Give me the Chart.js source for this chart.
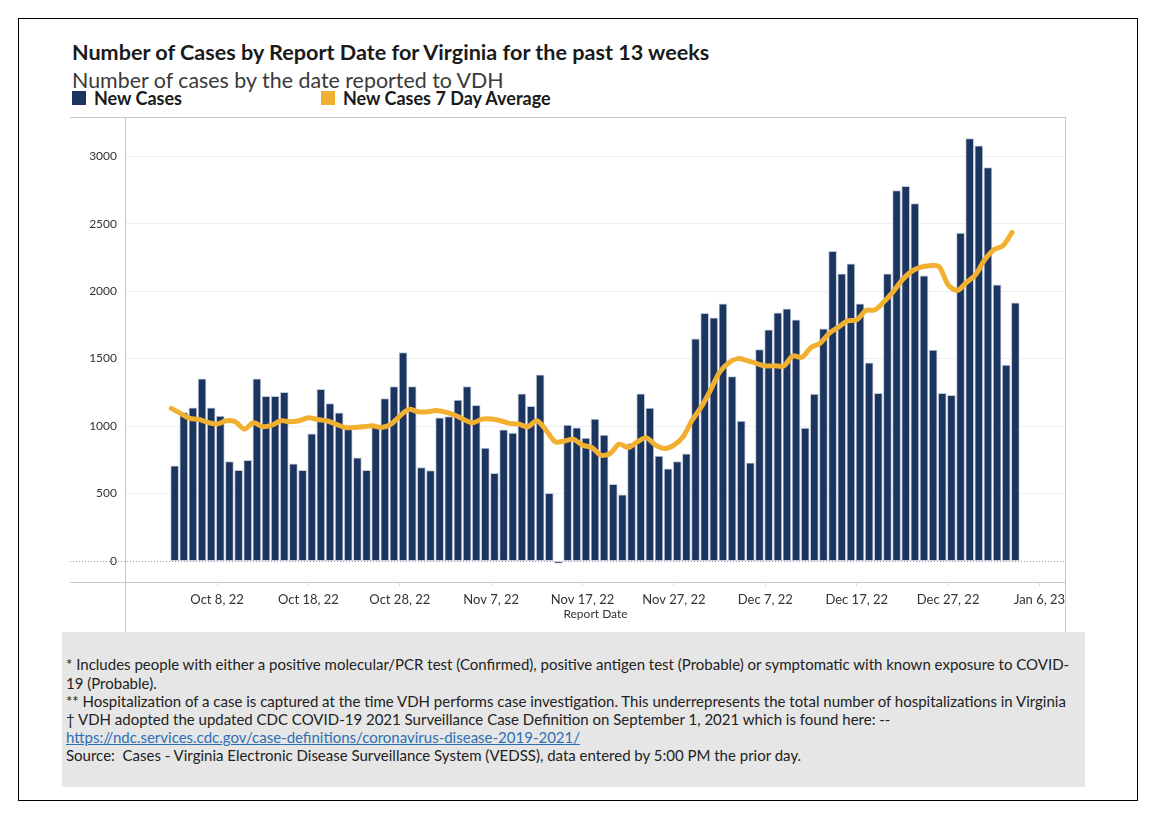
<!DOCTYPE html>
<html>
<head>
<meta charset="utf-8">
<script src="https://cdn.jsdelivr.net/npm/chart.js@4.4.1/dist/chart.umd.min.js"></script>
<style>
body{ margin:0; background:#fff; font-family:Lato, "Open Sans", sans-serif; color:#222; }
#page{ position:absolute; left:18px; top:18px; width:1118px; height:781px; border:1px solid #000; }
.title{ position:absolute; left:72px; top:39px; font-size:21.6px; font-weight:bold; color:#1a1a1a; white-space:nowrap; }
.subtitle{ position:absolute; left:72px; top:67px; font-size:21.4px; color:#3a3a3a; white-space:nowrap; }
.legend{ position:absolute; top:87px; font-size:18px; font-weight:bold; color:#1a1a1a; white-space:nowrap; }
.legend span{ display:inline-block; width:14px; height:14px; margin-right:8px; vertical-align:0px; }
#wrap{ position:absolute; left:70px; top:112px; width:1000px; height:525px; }
#notes{ position:absolute; left:62px; top:632px; width:1023px; height:155px; background:#e6e6e6; }
#notes div{ position:absolute; left:4px; font-size:15px; color:#222; white-space:nowrap; }
#notes a{ color:#2e6fb4; }
</style>
</head>
<body>
<div id="page"></div>
<div class="title">Number of Cases by Report Date for Virginia for the past 13 weeks</div>
<div class="subtitle">Number of cases by the date reported to VDH</div>
<div class="legend" style="left:72px"><span style="background:#1c355e"></span>New Cases</div>
<div class="legend" style="left:321px"><span style="background:#f2b030"></span>New Cases 7 Day Average</div>

<div id="wrap"><canvas id="chart"></canvas></div>

<div id="notes">
  <div style="top:23px">* Includes people with either a positive molecular/PCR test (Confirmed), positive antigen test (Probable) or symptomatic with known exposure to COVID-</div>
  <div style="top:42px">19 (Probable).</div>
  <div style="top:60px">** Hospitalization of a case is captured at the time VDH performs case investigation. This underrepresents the total number of hospitalizations in Virginia</div>
  <div style="top:78px">† VDH adopted the updated CDC COVID-19 2021 Surveillance Case Definition on September 1, 2021 which is found here: --</div>
  <div style="top:96px"><a href="#">https://ndc.services.cdc.gov/case-definitions/coronavirus-disease-2019-2021/</a></div>
  <div style="top:114px">Source:&nbsp; Cases - Virginia Electronic Disease Surveillance System (VEDSS), data entered by 5:00 PM the prior day.</div>
</div>

<script>

// ------------------------------
// DATA  (Oct 3, 22 -> Jan 3, 23)
// ------------------------------

const firstDay = -5          // Oct 3 counted from Oct 8
const dateTicks = ["Oct 8, 22","Oct 18, 22","Oct 28, 22","Nov 7, 22","Nov 17, 22","Nov 27, 22","Dec 7, 22","Dec 17, 22","Dec 27, 22","Jan 6, 23"]
const yTicks = [0,500,1000,1500,2000,2500,3000]

const newCases = [
    705,1100,1136,1351,1136,1074,738,673,747,1351,
    1220,1220,1250,720,673,943,1272,1166,1099,978,
    765,673,990,1203,1292,1544,1292,693,671,1062,
    1070,1193,1292,1153,837,651,973,948,1240,1146,
    1379,502,-15,1007,988,911,1052,933,569,490,
    871,1240,1134,777,683,738,795,1646,1835,1802,
    1906,1366,1037,728,1567,1713,1839,1869,1787,985,
    1238,1720,2294,2129,2203,1906,1468,1242,2129,2745,
    2777,2648,2114,1564,1242,1228,2430,3131,3076,2916,
    2047,1453,1913
]

const avg7 = [
    1131,1094,1057,1050,1027,1015,1040,1032,978,1025,
    995,1007,1040,1032,1040,1062,1049,1040,1015,990,
    990,995,1002,990,1012,1074,1124,1106,1106,1115,
    1104,1082,1049,1025,1052,1052,1040,1020,1015,995,
    1040,970,884,889,903,859,842,785,797,866,
    842,884,913,859,834,859,921,1045,1143,1267,
    1400,1470,1500,1485,1465,1445,1448,1445,1520,1510,
    1582,1614,1688,1733,1780,1787,1856,1861,1923,1997,
    2084,2146,2178,2188,2183,2047,2005,2064,2121,2232,
    2307,2336,2435
]

// bars are reported a bit after midnight
const barShift = 0.36

const barPoints = newCases.map((v,i)=>({x:firstDay+i+barShift, y:v}))
const avgPoints = avg7.map((v,i)=>({x:firstDay+i, y:v}))

// ------------------------------
// FRAME + ZERO LINE
// ------------------------------

const framePlugin = {
    id:"frame",
    beforeDatasetsDraw(chart){
        const ctx = chart.ctx
        const a = chart.chartArea
        const y0 = chart.scales.y.getPixelForValue(0)
        ctx.save()
        ctx.strokeStyle = "#9a9a9a"
        ctx.lineWidth = 1
        ctx.setLineDash([1,2])
        ctx.beginPath()
        ctx.moveTo(0, Math.round(y0)+0.5)
        ctx.lineTo(a.right, Math.round(y0)+0.5)
        ctx.stroke()
        ctx.restore()
    },
    afterDraw(chart){
        const ctx = chart.ctx
        const a = chart.chartArea
        const h = chart.height - 5
        ctx.save()
        ctx.strokeStyle = "#c8c8c8"
        ctx.lineWidth = 1
        ctx.beginPath()
        ctx.moveTo(0, a.top+0.5); ctx.lineTo(a.right, a.top+0.5)
        ctx.moveTo(0, a.bottom+0.5); ctx.lineTo(a.right, a.bottom+0.5)
        ctx.moveTo(a.left+0.5, a.top); ctx.lineTo(a.left+0.5, h)
        ctx.moveTo(a.right-0.5, a.top); ctx.lineTo(a.right-0.5, h)
        ctx.stroke()
        ctx.restore()
    }
}

// ------------------------------
// CHART
// ------------------------------

const ctx = document.getElementById("chart").getContext("2d")

new Chart(ctx,{
    type:"bar",
    data:{
        datasets:[
            {
                type:"line",
                label:"New Cases 7 Day Average",
                data:avgPoints,
                borderColor:"#f2b030",
                borderWidth:5,
                pointRadius:0,
                tension:0.3,
                borderCapStyle:"round",
                borderJoinStyle:"round",
                order:0
            },
            {
                label:"New Cases",
                data:barPoints,
                backgroundColor:"#1c355e",
                borderColor:"#c3cbdc",
                borderWidth:1,
                borderSkipped:false,
                barThickness:8,
                order:1
            }
        ]
    },
    options:{
        responsive:true,
        maintainAspectRatio:false,
        animation:false,
        layout:{ padding:{top:5,right:4,bottom:5,left:0} },
        plugins:{ legend:{display:false}, tooltip:{enabled:false} },
        scales:{
            x:{
                type:"linear",
                offset:false,
                min:-10.07,
                max:92.9,
                afterBuildTicks:(s)=>{ s.ticks = dateTicks.map((_,i)=>({value:i*10})) },
                afterFit:(s)=>{ s.height = 50; s.paddingLeft = 0; s.paddingRight = 0 },
                border:{display:false},
                grid:{ offset:false, drawOnChartArea:false, drawTicks:true, tickLength:4, tickColor:"#dddddd" },
                ticks:{
                    autoSkip:false,
                    maxRotation:0,
                    padding:6,
                    color:"#333",
                    font:{family:"Lato", size:13},
                    callback:(v)=>dateTicks[Math.round(v/10)]
                },
                title:{
                    display:true,
                    text:"Report Date",
                    color:"#333",
                    font:{family:"Lato", size:12},
                    padding:{top:0,bottom:11}
                }
            },
            y:{
                min:-155,
                max:3290,
                afterBuildTicks:(s)=>{ s.ticks = yTicks.map(v=>({value:v})) },
                afterFit:(s)=>{ s.width = 55; s.paddingTop = 0; s.paddingBottom = 0 },
                border:{display:false},
                grid:{
                    drawTicks:false,
                    color:(c)=> c.tick && c.tick.value===0 ? "rgba(0,0,0,0)" : "#efefef"
                },
                ticks:{
                    padding:8,
                    color:"#333",
                    font:{family:"Lato", size:12},
                    callback:(v)=>String(v)
                }
            }
        }
    },
    plugins:[framePlugin]
})

</script>
</body>
</html>
